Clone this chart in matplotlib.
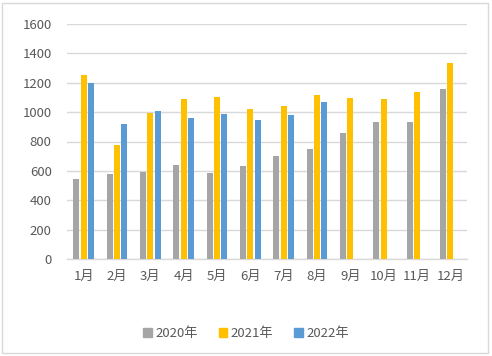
import matplotlib
matplotlib.use("Agg")
import matplotlib.pyplot as plt
import matplotlib.patches as mpatches
import numpy as np

plt.rcParams["font.family"] = ["Noto Sans CJK SC", "DejaVu Sans"]

# ── Data ──────────────────────────────────────────────────────────────────────
months = ["1月", "2月", "3月", "4月", "5月", "6月", "7月", "8月", "9月", "10月", "11月", "12月"]
y2020 = [545, 580, 592, 640, 587, 633, 701, 749, 858, 933, 933, 1158]
y2021 = [1253, 776, 994, 1090, 1103, 1021, 1042, 1117, 1096, 1090, 1137, 1335]
y2022 = [1200, 919, 1008, 960, 987, 947, 981, 1069]
series_names = ["2020年", "2021年", "2022年"]
yticks = [0, 200, 400, 600, 800, 1000, 1200, 1400, 1600]

# ── Colours ───────────────────────────────────────────────────────────────────
GRAY   = "#A5A5A5"
YELLOW = "#FFC000"
BLUE   = "#5B9BD5"
TEXT   = "#595959"
GRID   = "#D9D9D9"

W, H = 492, 356
fig = plt.figure(figsize=(W / 100, H / 100), dpi=100, facecolor="white")

# chart border
fig.patches.append(mpatches.Rectangle(
    (2 / W, 3 / H), 486 / W, 350 / H, transform=fig.transFigure,
    fill=False, edgecolor=GRID, linewidth=1.0))

left, right, top, bottom = 67, 467, 24, 259
ax = fig.add_axes([left / W, (H - bottom) / H, (right - left) / W, (bottom - top) / H])

x = np.arange(len(months))
bw = 0.18
ax.bar(x - 0.22, y2020, width=bw, color=GRAY, linewidth=0, zorder=3)
ax.bar(x, y2021, width=bw, color=YELLOW, linewidth=0, zorder=3)
ax.bar(x[:len(y2022)] + 0.22, y2022, width=bw, color=BLUE, linewidth=0, zorder=3)

ax.set_xlim(-0.5, len(months) - 0.5)
ax.set_ylim(0, 1600)
ax.set_yticks(yticks)
ax.set_xticks(x)
ax.set_xticklabels(months)
ax.grid(axis="y", color=GRID, linewidth=1.0, zorder=0)
ax.tick_params(axis="both", length=0, colors=TEXT, labelsize=9.5)
ax.tick_params(axis="x", pad=8)
ax.tick_params(axis="y", pad=11)
for s in ("top", "right", "left"):
    ax.spines[s].set_visible(False)
ax.spines["bottom"].set_color(GRID)
ax.spines["bottom"].set_linewidth(1.0)

handles = [mpatches.Patch(color=c, label=n) for c, n in zip((GRAY, YELLOW, BLUE), series_names)]
fig.legend(handles=handles, loc="center", bbox_to_anchor=(0.5, (H - 334) / H),
           ncol=3, frameon=False, fontsize=9.5, labelcolor=TEXT,
           handlelength=0.65, handleheight=0.65, handletextpad=0.25, columnspacing=1.6)

fig.savefig("out.png", dpi=100, facecolor="white")
